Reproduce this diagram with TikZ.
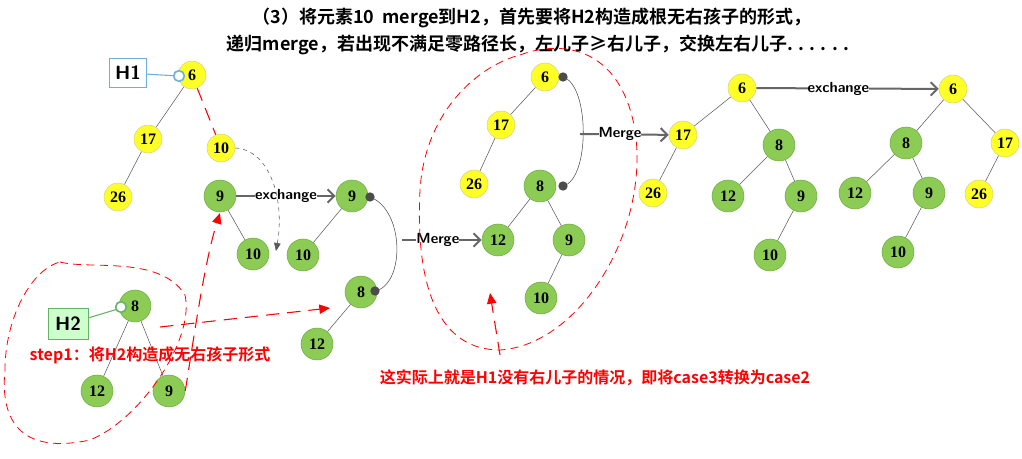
\documentclass[tikz,border=0pt]{standalone}
\usepackage{fontspec}
\setmainfont{Liberation Serif}
\newfontfamily\cjk{Noto Sans CJK SC}[BoldFont={Noto Sans CJK SC Bold}]
\usetikzlibrary{arrows.meta, positioning, calc}
\definecolor{leaf}{RGB}{140,204,84}
\definecolor{leafline}{RGB}{110,170,70}
\definecolor{sun}{RGB}{255,255,40}

\begin{document}
\begin{tikzpicture}[x=0.75pt, y=-0.75pt,
    yel/.style={circle, draw=yellow!60!black!50, fill=sun, minimum size=21pt, inner sep=0pt, font=\bfseries\large},
    grn/.style={circle, draw=leafline, fill=leaf, minimum size=24pt, inner sep=0pt, font=\bfseries\large},
    tree/.style={draw=black!65, thin},
    big/.style={-{Straight Barb[length=5pt,width=10pt]}, draw=black!60, line width=1.5pt},
    reddash/.style={red, dash pattern=on 10pt off 6pt, thick},
    blob/.style={red, dash pattern=on 6pt off 4pt, semithick},
    lbl/.style={font=\cjk\bfseries, inner sep=1pt},
    tag/.style={font=\sffamily\bfseries\fontsize{11}{12}\selectfont, fill=white, inner sep=0pt}
]
\useasboundingbox (0,0) rectangle (1022,459);

% Title
\node[lbl, font=\cjk\bfseries\fontsize{13.5}{15}\selectfont] (t1) at (532,18) {（3）将元素10\ \ merge到H2，首先要将H2构造成根无右孩子的形式，};
\node[lbl, font=\cjk\bfseries\fontsize{13.5}{15}\selectfont] (t2) at (538,45) {递归merge，若出现不满足零路径长，左儿子≥右儿子，交换左右儿子. . . . . .};

% H1
\node[yel] (a6) at (192,75) {6};
\node[yel] (a17) at (148,139) {17};
\node[yel] (a10) at (221,148) {10};
\node[yel] (a26) at (118,197) {26};
\node[draw=cyan!70!blue!60, font=\sffamily\bfseries\Large, minimum width=28pt, minimum height=22pt] (h1) at (128,73) {H1};
\draw[tree] (a6) -- (a17) (a17) -- (a26);
\draw[reddash] (a6) -- (a10);
\draw[cyan!70!blue!60, thick] (h1) -- (178,76);
\node[circle, draw=cyan!70!blue!60, fill=white, line width=1.2pt, minimum size=8pt, inner sep=0pt] (c1) at (179,76) {};

% exchange step
\node[grn] (b9) at (220,196) {9};
\node[grn] (b10) at (253,254) {10};
\node[grn] (c9) at (352,196) {9};
\node[grn] (c10) at (303,255) {10};
\node[grn] (c8) at (361,292) {8};
\node[grn] (c12) at (317,344) {12};
\draw[tree] (b9) -- (b10) (c9) -- (c10) (c8) -- (c12);
\draw[big] (b9) -- (c9) node[midway, tag] {exchange};
\coordinate (d1) at (370,197);
\coordinate (d2) at (375,291);
\draw[black!70] (d1) .. controls (405,210) and (405,285) .. (d2);
\fill[black!70] (d1) circle (3.5pt) (d2) circle (3.5pt);
\coordinate (e1) at (276,251);
\draw[black!65, dashed, -{Triangle[length=6pt,width=5pt]}] (a10.east) .. controls (270,150) and (285,200) .. (e1);

% H2
\node[grn] (h8) at (135,306) {8};
\node[grn] (h12) at (97,391) {12};
\node[grn] (h9) at (169,391) {9};
\node[draw=green!50!black!60, fill=green!20, font=\sffamily\bfseries\Large, minimum width=30pt, minimum height=23pt] (h2) at (68,324) {H2};
\draw[tree] (h8) -- (h12) (h8) -- (h9);
\draw[green!50!black!60, thick] (h2) -- (118,309);
\node[circle, draw=green!50!black!60, fill=white, line width=1.2pt, minimum size=8pt, inner sep=0pt] (c2) at (121,307) {};
\draw[blob] (60,262) .. controls (90,270) and (160,255) .. (185,295)
  .. controls (195,340) and (140,420) .. (90,440) .. controls (20,455) and (0,420) .. (5,370)
  .. controls (5,320) and (30,270) .. (60,262);
\node[lbl, red, font=\cjk\bfseries\fontsize{12}{14}\selectfont] (s1) at (150,355) {step1：将H2构造成无右孩子形式};
\coordinate (r1) at (220,213);
\coordinate (r2) at (330,308);
\draw[reddash, -{Triangle[length=8pt,width=7pt]}] (h9.east) .. controls (195,330) and (205,260) .. (r1);
\draw[reddash, -{Triangle[length=8pt,width=7pt]}] (160,327) -- (r2);

% merge result
\node[yel] (m6) at (545,77) {6};
\node[yel] (m17) at (501,125) {17};
\node[yel] (m26) at (474,184) {26};
\node[grn] (m8) at (540,186) {8};
\node[grn] (m12) at (498,240) {12};
\node[grn] (m9) at (569,240) {9};
\node[grn] (m10) at (541,298) {10};
\draw[tree] (m6) -- (m17) (m17) -- (m26) (m8) -- (m12) (m8) -- (m9) (m9) -- (m10);
\coordinate (k1) at (402,240);
\draw[big] (k1) -- (m12) node[pos=0.45, tag] {Merge};
\coordinate (g1) at (563,77);
\coordinate (g2) at (563,186);
\draw[black!70] (g1) .. controls (590,85) and (590,180) .. (g2);
\fill[black!70] (g1) circle (3.5pt) (g2) circle (3.5pt);
\draw[blob] (520,55) .. controls (560,40) and (620,45) .. (635,130)
  .. controls (650,230) and (580,345) .. (500,350) .. controls (440,350) and (415,290) .. (420,190)
  .. controls (425,110) and (480,65) .. (520,55);
\coordinate (u1) at (490,293);
\draw[reddash, -{Triangle[length=8pt,width=7pt]}] (500,355) -- (u1);
\node[lbl, red, font=\cjk\bfseries\fontsize{12}{14}\selectfont] (s2) at (595,378) {这实际上就是H1没有右儿子的情况，即将case3转换为case2};

% after merge
\node[yel] (p6) at (742,88) {6};
\node[yel] (p17) at (683,135) {17};
\node[yel] (p26) at (653,193) {26};
\node[grn] (p8) at (779,145) {8};
\node[grn] (p12) at (728,196) {12};
\node[grn] (p9) at (801,196) {9};
\node[grn] (p10) at (770,255) {10};
\draw[tree] (p6) -- (p17) (p17) -- (p26) (p6) -- (p8) (p8) -- (p12) (p8) -- (p9) (p9) -- (p10);
\coordinate (k2) at (580,134);
\draw[big] (k2) -- (p17) node[pos=0.45, tag] {Merge};

% after exchange
\node[yel] (q6) at (953,89) {6};
\node[grn] (q8) at (906,143) {8};
\node[yel] (q17) at (1005,143) {17};
\node[grn] (q12) at (855,193) {12};
\node[grn] (q9) at (929,193) {9};
\node[yel] (q26) at (979,194) {26};
\node[grn] (q10) at (898,252) {10};
\draw[tree] (q6) -- (q8) (q6) -- (q17) (q8) -- (q12) (q8) -- (q9) (q9) -- (q10) (q17) -- (q26);
\draw[big] (p6) -- (q6) node[pos=0.45, tag] {exchange};
\end{tikzpicture}
\end{document}
